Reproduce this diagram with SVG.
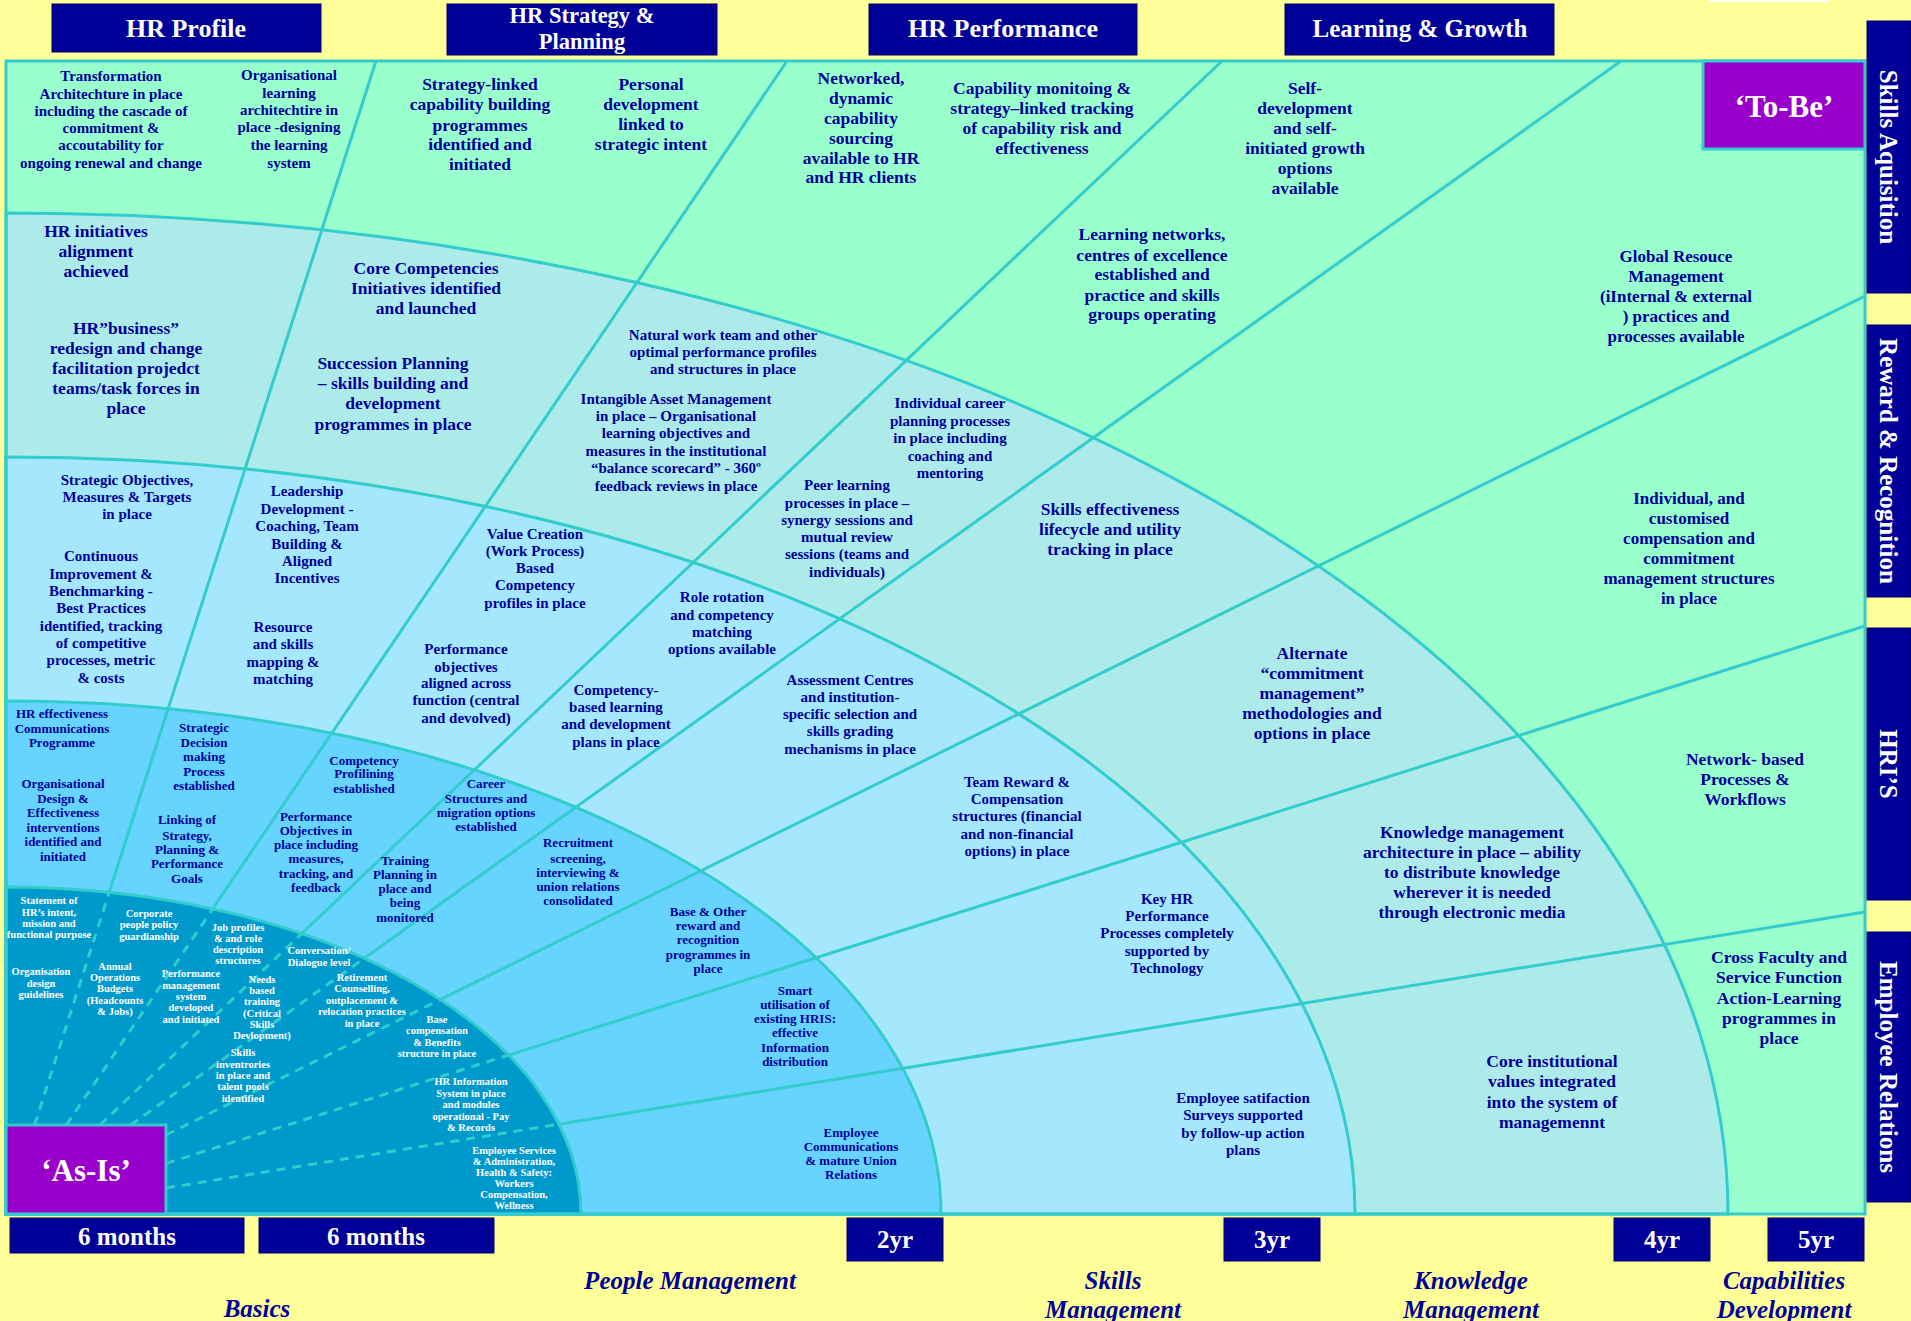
<svg xmlns="http://www.w3.org/2000/svg" width="1911" height="1321" viewBox="0 0 1911 1321">
<style>
.hdr{fill:#000099;stroke:#000066;stroke-width:1}
.ht{font-family:'Liberation Serif','Times New Roman',serif;font-weight:bold;fill:#fff;text-anchor:middle}
.n{font-family:'Liberation Serif','Times New Roman',serif;font-weight:bold;fill:#000099;text-anchor:middle}
.w{fill:#fff}
.it{font-style:italic}
.zone{stroke:#33CCCC;stroke-width:3}
.ray{stroke:#33CCCC;stroke-width:3;fill:none}
.dash{stroke-dasharray:9 7}
.tag{fill:#9900CC;stroke:#33CCCC;stroke-width:3}
.f10{font-size:10.5px}.f13{font-size:13px}.f15{font-size:15px}.f17{font-size:17px}.f18{font-size:17.5px}.f23{font-size:22.5px}.f25{font-size:25px}.f26{font-size:26px}.f31{font-size:31px}
</style>
<rect x="0" y="0" width="1911" height="1321" fill="#FFFF99"/>
<rect x="1709" y="0" width="121" height="2" fill="#ffffff"/>

<g id="zones">
<rect x="6" y="61" width="1859" height="1153" fill="#99FFCC"/>
<path class="zone" fill="#ADEBEB" d="M6,1214 L6,213 A1722,1001 0 0 1 1728,1214 Z"/>
<path class="zone" fill="#A5E8FE" d="M6,1214 L6,457 A1349,757 0 0 1 1355,1214 Z"/>
<path class="zone" fill="#66D4FF" d="M6,1214 L6,701 A935,513 0 0 1 941,1214 Z"/>
<path class="zone" fill="#0099CC" d="M6,1214 L6,887 A575,327 0 0 1 581,1214 Z"/>
</g>

<g id="connectors">
<line class="ray" x1="109.2" y1="892.3" x2="376" y2="61"/>
<line class="ray" x1="212.7" y1="908.9" x2="787" y2="61"/>
<line class="ray" x1="301.7" y1="933.6" x2="1222" y2="61"/>
<line class="ray" x1="364.3" y1="958.2" x2="1621" y2="61"/>
<line class="ray" x1="440.2" y1="999.6" x2="1865" y2="296"/>
<line class="ray" x1="508.5" y1="1055.1" x2="1865" y2="626"/>
<line class="ray" x1="558.9" y1="1124.2" x2="1865" y2="912"/>
<line class="ray dash" x1="34.6" y1="1125" x2="109.2" y2="892.3"/>
<line class="ray dash" x1="66.3" y1="1125" x2="212.7" y2="908.9"/>
<line class="ray dash" x1="99.9" y1="1125" x2="301.7" y2="933.6"/>
<line class="ray dash" x1="130.7" y1="1125" x2="364.3" y2="958.2"/>
<line class="ray dash" x1="166" y1="1135" x2="440.2" y2="999.6"/>
<line class="ray dash" x1="166" y1="1163.4" x2="508.5" y2="1055.1"/>
<line class="ray dash" x1="166" y1="1188" x2="558.9" y2="1124.2"/>
</g>
<rect x="6" y="61" width="1859" height="1153" fill="none" stroke="#33CCCC" stroke-width="3"/>

<g id="as-is"><rect class="tag" x="6" y="1125" width="160" height="89"/><text class="ht f31" x="86" y="1181">‘As-Is’</text></g>
<g id="to-be"><rect class="tag" x="1703" y="61" width="162" height="88"/><text class="ht f31" x="1784" y="117">‘To-Be’</text></g>

<g id="hdr-profile"><rect class="hdr" x="52" y="4" width="269" height="48"/><text class="ht f26" x="186" y="37">HR Profile</text></g>
<g id="hdr-strategy"><rect class="hdr" x="447" y="4" width="270" height="51"/><text class="ht f23" x="582"><tspan x="582" y="23">HR Strategy &amp;</tspan><tspan x="582" y="49">Planning</tspan></text></g>
<g id="hdr-performance"><rect class="hdr" x="869" y="4" width="268" height="51"/><text class="ht f26" x="1003" y="37">HR Performance</text></g>
<g id="hdr-learning"><rect class="hdr" x="1285" y="4" width="269" height="51"/><text class="ht f25" x="1420" y="37">Learning &amp; Growth</text></g>

<g id="side-skills"><rect class="hdr" x="1867" y="21" width="44" height="272"/><text class="ht f25" transform="translate(1889,157) rotate(90)" dy="0.35em">Skills Aquisition</text></g>
<g id="side-reward"><rect class="hdr" x="1867" y="325" width="44" height="272"/><text class="ht f25" transform="translate(1889,461) rotate(90)" dy="0.35em">Reward &amp; Recognition</text></g>
<g id="side-hris"><rect class="hdr" x="1867" y="628" width="44" height="272"/><text class="ht f25" transform="translate(1889,764) rotate(90)" dy="0.35em">HRI’S</text></g>
<g id="side-er"><rect class="hdr" x="1867" y="932" width="44" height="270"/><text class="ht f25" transform="translate(1889,1067) rotate(90)" dy="0.35em">Employee Relations</text></g>

<g id="time-6m-a"><rect class="hdr" x="10" y="1218" width="234" height="35"/><text class="ht f25" x="127" y="1245">6 months</text></g>
<g id="time-6m-b"><rect class="hdr" x="259" y="1218" width="235" height="35"/><text class="ht f25" x="376" y="1245">6 months</text></g>
<g id="time-2yr"><rect class="hdr" x="847" y="1218" width="96" height="43"/><text class="ht f25" x="895" y="1248">2yr</text></g>
<g id="time-3yr"><rect class="hdr" x="1224" y="1218" width="96" height="43"/><text class="ht f25" x="1272" y="1248">3yr</text></g>
<g id="time-4yr"><rect class="hdr" x="1614" y="1218" width="96" height="43"/><text class="ht f25" x="1662" y="1248">4yr</text></g>
<g id="time-5yr"><rect class="hdr" x="1768" y="1218" width="96" height="43"/><text class="ht f25" x="1816" y="1248">5yr</text></g>

<g id="stage-basics"><text class="n it f25" x="257" y="1317">Basics</text></g>
<g id="stage-people"><text class="n it f25" x="690" y="1289">People Management</text></g>
<g id="stage-skills"><text class="n it f25" x="1113"><tspan x="1113" y="1289">Skills</tspan><tspan x="1113" y="1318">Management</tspan></text></g>
<g id="stage-knowledge"><text class="n it f25" x="1471"><tspan x="1471" y="1289">Knowledge</tspan><tspan x="1471" y="1318">Management</tspan></text></g>
<g id="stage-capabilities"><text class="n it f25" x="1784"><tspan x="1784" y="1289">Capabilities</tspan><tspan x="1784" y="1318">Development</tspan></text></g>

<g id="n1"><text class="n f15"><tspan x="111" y="81">Transformation</tspan><tspan x="111" y="99">Architechture in place</tspan><tspan x="111" y="116">including the cascade of</tspan><tspan x="111" y="133">commitment &amp;</tspan><tspan x="111" y="150">accoutability for</tspan><tspan x="111" y="168">ongoing renewal and change</tspan></text></g>
<g id="n2"><text class="n f15"><tspan x="289" y="80">Organisational</tspan><tspan x="289" y="98">learning</tspan><tspan x="289" y="115">architechtire in</tspan><tspan x="289" y="132">place -designing</tspan><tspan x="289" y="150">the learning</tspan><tspan x="289" y="168">system</tspan></text></g>
<g id="n3"><text class="n f18"><tspan x="480" y="90">Strategy-linked</tspan><tspan x="480" y="110">capability building</tspan><tspan x="480" y="131">programmes</tspan><tspan x="480" y="150">identified and</tspan><tspan x="480" y="170">initiated</tspan></text></g>
<g id="n4"><text class="n f18"><tspan x="651" y="90">Personal</tspan><tspan x="651" y="110">development</tspan><tspan x="651" y="130">linked to</tspan><tspan x="651" y="150">strategic intent</tspan></text></g>
<g id="n5"><text class="n f18"><tspan x="861" y="84">Networked,</tspan><tspan x="861" y="104">dynamic</tspan><tspan x="861" y="124">capability</tspan><tspan x="861" y="144">sourcing</tspan><tspan x="861" y="164">available to HR</tspan><tspan x="861" y="183">and HR clients</tspan></text></g>
<g id="n6"><text class="n f18"><tspan x="1042" y="94">Capability monitoing &amp;</tspan><tspan x="1042" y="114">strategy–linked tracking</tspan><tspan x="1042" y="134">of capability risk and</tspan><tspan x="1042" y="154">effectiveness</tspan></text></g>
<g id="n7"><text class="n f18"><tspan x="1305" y="94">Self-</tspan><tspan x="1305" y="114">development</tspan><tspan x="1305" y="134">and self-</tspan><tspan x="1305" y="154">initiated growth</tspan><tspan x="1305" y="174">options</tspan><tspan x="1305" y="194">available</tspan></text></g>
<g id="n8"><text class="n f18"><tspan x="1152" y="240">Learning networks,</tspan><tspan x="1152" y="261">centres of excellence</tspan><tspan x="1152" y="280">established and</tspan><tspan x="1152" y="301">practice and skills</tspan><tspan x="1152" y="320">groups operating</tspan></text></g>
<g id="n9"><text class="n f17"><tspan x="1676" y="262">Global Resouce</tspan><tspan x="1676" y="282">Management</tspan><tspan x="1676" y="302">(iInternal &amp; external</tspan><tspan x="1676" y="322">) practices and</tspan><tspan x="1676" y="342">processes available</tspan></text></g>
<g id="n10"><text class="n f17"><tspan x="1689" y="504">Individual, and</tspan><tspan x="1689" y="524">customised</tspan><tspan x="1689" y="544">compensation and</tspan><tspan x="1689" y="564">commitment</tspan><tspan x="1689" y="584">management structures</tspan><tspan x="1689" y="604">in place</tspan></text></g>
<g id="n11"><text class="n f18"><tspan x="1745" y="765">Network- based</tspan><tspan x="1745" y="785">Processes &amp;</tspan><tspan x="1745" y="805">Workflows</tspan></text></g>
<g id="n12"><text class="n f18"><tspan x="1779" y="963">Cross Faculty and</tspan><tspan x="1779" y="983">Service Function</tspan><tspan x="1779" y="1004">Action-Learning</tspan><tspan x="1779" y="1024">programmes in</tspan><tspan x="1779" y="1044">place</tspan></text></g>
<g id="n13"><text class="n f18"><tspan x="1552" y="1067">Core institutional</tspan><tspan x="1552" y="1087">values integrated</tspan><tspan x="1552" y="1108">into the system of</tspan><tspan x="1552" y="1128">managemennt</tspan></text></g>
<g id="n14"><text class="n f15"><tspan x="1243" y="1103">Employee satifaction</tspan><tspan x="1243" y="1120">Surveys supported</tspan><tspan x="1243" y="1138">by follow-up action</tspan><tspan x="1243" y="1155">plans</tspan></text></g>
<g id="n15"><text class="n f18"><tspan x="1472" y="838">Knowledge management</tspan><tspan x="1472" y="858">architecture in place – ability</tspan><tspan x="1472" y="878">to distribute knowledge</tspan><tspan x="1472" y="898">wherever it is needed</tspan><tspan x="1472" y="918">through electronic media</tspan></text></g>
<g id="n16"><text class="n f15"><tspan x="1167" y="904">Key HR</tspan><tspan x="1167" y="921">Performance</tspan><tspan x="1167" y="938">Processes completely</tspan><tspan x="1167" y="956">supported by</tspan><tspan x="1167" y="973">Technology</tspan></text></g>
<g id="n17"><text class="n f18"><tspan x="1312" y="659">Alternate</tspan><tspan x="1312" y="679">“commitment</tspan><tspan x="1312" y="699">management”</tspan><tspan x="1312" y="719">methodologies and</tspan><tspan x="1312" y="739">options in place</tspan></text></g>
<g id="n18"><text class="n f18"><tspan x="1110" y="515">Skills effectiveness</tspan><tspan x="1110" y="535">lifecycle and utility</tspan><tspan x="1110" y="555">tracking in place</tspan></text></g>
<g id="n19"><text class="n f15"><tspan x="1017" y="787">Team Reward &amp;</tspan><tspan x="1017" y="804">Compensation</tspan><tspan x="1017" y="821">structures (financial</tspan><tspan x="1017" y="839">and non-financial</tspan><tspan x="1017" y="856">options) in place</tspan></text></g>
<g id="n20"><text class="n f15"><tspan x="850" y="685">Assessment Centres</tspan><tspan x="850" y="702">and institution-</tspan><tspan x="850" y="719">specific selection and</tspan><tspan x="850" y="736">skills grading</tspan><tspan x="850" y="754">mechanisms in place</tspan></text></g>
<g id="n21"><text class="n f15"><tspan x="722" y="602">Role rotation</tspan><tspan x="722" y="620">and competency</tspan><tspan x="722" y="637">matching</tspan><tspan x="722" y="654">options available</tspan></text></g>
<g id="n22"><text class="n f15"><tspan x="616" y="695">Competency-</tspan><tspan x="616" y="712">based learning</tspan><tspan x="616" y="729">and development</tspan><tspan x="616" y="747">plans in place</tspan></text></g>
<g id="n23"><text class="n f15"><tspan x="847" y="490">Peer learning</tspan><tspan x="847" y="508">processes in place –</tspan><tspan x="847" y="525">synergy sessions and</tspan><tspan x="847" y="542">mutual review</tspan><tspan x="847" y="559">sessions (teams and</tspan><tspan x="847" y="577">individuals)</tspan></text></g>
<g id="n24"><text class="n f15"><tspan x="950" y="408">Individual career</tspan><tspan x="950" y="426">planning processes</tspan><tspan x="950" y="443">in place including</tspan><tspan x="950" y="461">coaching and</tspan><tspan x="950" y="478">mentoring</tspan></text></g>
<g id="n25"><text class="n f15"><tspan x="723" y="340">Natural work team and other</tspan><tspan x="723" y="357">optimal performance profiles</tspan><tspan x="723" y="374">and structures in place</tspan></text></g>
<g id="n26"><text class="n f15"><tspan x="676" y="404">Intangible Asset Management</tspan><tspan x="676" y="421">in place – Organisational</tspan><tspan x="676" y="438">learning objectives and</tspan><tspan x="676" y="456">measures in the institutional</tspan><tspan x="676" y="473">“balance scorecard” - 360º</tspan><tspan x="676" y="491">feedback reviews in place</tspan></text></g>
<g id="n27"><text class="n f15"><tspan x="535" y="539">Value Creation</tspan><tspan x="535" y="556">(Work Process)</tspan><tspan x="535" y="573">Based</tspan><tspan x="535" y="590">Competency</tspan><tspan x="535" y="608">profiles in place</tspan></text></g>
<g id="n28"><text class="n f15"><tspan x="466" y="654">Performance</tspan><tspan x="466" y="672">objectives</tspan><tspan x="466" y="688">aligned across</tspan><tspan x="466" y="705">function (central</tspan><tspan x="466" y="723">and devolved)</tspan></text></g>
<g id="n29"><text class="n f15"><tspan x="307" y="496">Leadership</tspan><tspan x="307" y="514">Development -</tspan><tspan x="307" y="531">Coaching, Team</tspan><tspan x="307" y="549">Building &amp;</tspan><tspan x="307" y="566">Aligned</tspan><tspan x="307" y="583">Incentives</tspan></text></g>
<g id="n30"><text class="n f15"><tspan x="283" y="632">Resource</tspan><tspan x="283" y="649">and skills</tspan><tspan x="283" y="667">mapping &amp;</tspan><tspan x="283" y="684">matching</tspan></text></g>
<g id="n31"><text class="n f15"><tspan x="127" y="485">Strategic Objectives,</tspan><tspan x="127" y="502">Measures &amp; Targets</tspan><tspan x="127" y="519">in place</tspan></text></g>
<g id="n32"><text class="n f15"><tspan x="101" y="561">Continuous</tspan><tspan x="101" y="579">Improvement &amp;</tspan><tspan x="101" y="596">Benchmarking -</tspan><tspan x="101" y="613">Best Practices</tspan><tspan x="101" y="631">identified, tracking</tspan><tspan x="101" y="648">of competitive</tspan><tspan x="101" y="665">processes, metric</tspan><tspan x="101" y="683">&amp; costs</tspan></text></g>
<g id="n33"><text class="n f18"><tspan x="96" y="237">HR initiatives</tspan><tspan x="96" y="257">alignment</tspan><tspan x="96" y="277">achieved</tspan></text></g>
<g id="n34"><text class="n f18"><tspan x="126" y="334">HR”business”</tspan><tspan x="126" y="354">redesign and change</tspan><tspan x="126" y="374">facilitation projedct</tspan><tspan x="126" y="394">teams/task forces in</tspan><tspan x="126" y="414">place</tspan></text></g>
<g id="n35"><text class="n f18"><tspan x="426" y="274">Core Competencies</tspan><tspan x="426" y="294">Initiatives identified</tspan><tspan x="426" y="314">and launched</tspan></text></g>
<g id="n36"><text class="n f18"><tspan x="393" y="369">Succession Planning</tspan><tspan x="393" y="389">– skills building and</tspan><tspan x="393" y="409">development</tspan><tspan x="393" y="430">programmes in place</tspan></text></g>

<g id="n37"><text class="n f13"><tspan x="62" y="718">HR effectiveness</tspan><tspan x="62" y="733">Communications</tspan><tspan x="62" y="747">Programme</tspan></text></g>
<g id="n38"><text class="n f13"><tspan x="63" y="788">Organisational</tspan><tspan x="63" y="803">Design &amp;</tspan><tspan x="63" y="817">Effectiveness</tspan><tspan x="63" y="832">interventions</tspan><tspan x="63" y="846">identified and</tspan><tspan x="63" y="861">initiated</tspan></text></g>
<g id="n39"><text class="n f13"><tspan x="204" y="732">Strategic</tspan><tspan x="204" y="747">Decision</tspan><tspan x="204" y="761">making</tspan><tspan x="204" y="776">Process</tspan><tspan x="204" y="790">established</tspan></text></g>
<g id="n40"><text class="n f13"><tspan x="187" y="824">Linking of</tspan><tspan x="187" y="840">Strategy,</tspan><tspan x="187" y="854">Planning &amp;</tspan><tspan x="187" y="868">Performance</tspan><tspan x="187" y="883">Goals</tspan></text></g>
<g id="n41"><text class="n f13"><tspan x="364" y="765">Competency</tspan><tspan x="364" y="778">Profilining</tspan><tspan x="364" y="793">established</tspan></text></g>
<g id="n42"><text class="n f13"><tspan x="316" y="821">Performance</tspan><tspan x="316" y="835">Objectives in</tspan><tspan x="316" y="849">place including</tspan><tspan x="316" y="863">measures,</tspan><tspan x="316" y="878">tracking, and</tspan><tspan x="316" y="892">feedback</tspan></text></g>
<g id="n43"><text class="n f13"><tspan x="486" y="788">Career</tspan><tspan x="486" y="803">Structures and</tspan><tspan x="486" y="817">migration options</tspan><tspan x="486" y="831">established</tspan></text></g>
<g id="n44"><text class="n f13"><tspan x="405" y="865">Training</tspan><tspan x="405" y="879">Planning in</tspan><tspan x="405" y="893">place and</tspan><tspan x="405" y="907">being</tspan><tspan x="405" y="922">monitored</tspan></text></g>
<g id="n45"><text class="n f13"><tspan x="578" y="847">Recruitment</tspan><tspan x="578" y="863">screening,</tspan><tspan x="578" y="877">interviewing &amp;</tspan><tspan x="578" y="891">union relations</tspan><tspan x="578" y="905">consolidated</tspan></text></g>
<g id="n46"><text class="n f13"><tspan x="708" y="916">Base &amp; Other</tspan><tspan x="708" y="930">reward and</tspan><tspan x="708" y="944">recognition</tspan><tspan x="708" y="959">programmes in</tspan><tspan x="708" y="973">place</tspan></text></g>
<g id="n47"><text class="n f13"><tspan x="795" y="995">Smart</tspan><tspan x="795" y="1009">utilisation of</tspan><tspan x="795" y="1023">existing HRIS:</tspan><tspan x="795" y="1037">effective</tspan><tspan x="795" y="1052">Information</tspan><tspan x="795" y="1066">distribution</tspan></text></g>
<g id="n48"><text class="n f13"><tspan x="851" y="1137">Employee</tspan><tspan x="851" y="1151">Communications</tspan><tspan x="851" y="1165">&amp; mature Union</tspan><tspan x="851" y="1179">Relations</tspan></text></g>

<g id="n49"><text class="n w f10"><tspan x="49" y="904">Statement of</tspan><tspan x="49" y="916">HR’s intent,</tspan><tspan x="49" y="927">mission and</tspan><tspan x="49" y="938">functional purpose</tspan></text></g>
<g id="n50"><text class="n w f10"><tspan x="149" y="917">Corporate</tspan><tspan x="149" y="928">people policy</tspan><tspan x="149" y="940">guardianship</tspan></text></g>
<g id="n51"><text class="n w f10"><tspan x="41" y="975">Organisation</tspan><tspan x="41" y="987">design</tspan><tspan x="41" y="998">guidelines</tspan></text></g>
<g id="n52"><text class="n w f10"><tspan x="115" y="970">Annual</tspan><tspan x="115" y="981">Operations</tspan><tspan x="115" y="992">Budgets</tspan><tspan x="115" y="1004">(Headcounts</tspan><tspan x="115" y="1015">&amp; Jobs)</tspan></text></g>
<g id="n53"><text class="n w f10"><tspan x="238" y="931">Job profiles</tspan><tspan x="238" y="942">&amp; and role</tspan><tspan x="238" y="953">description</tspan><tspan x="238" y="964">structures</tspan></text></g>
<g id="n54"><text class="n w f10"><tspan x="191" y="977">Performance</tspan><tspan x="191" y="989">management</tspan><tspan x="191" y="1000">system</tspan><tspan x="191" y="1011">developed</tspan><tspan x="191" y="1023">and initiated</tspan></text></g>
<g id="n55"><text class="n w f10"><tspan x="262" y="983">Needs</tspan><tspan x="262" y="994">based</tspan><tspan x="262" y="1005">training</tspan><tspan x="262" y="1017">(Critical</tspan><tspan x="262" y="1028">Skills</tspan><tspan x="262" y="1039">Devlopment)</tspan></text></g>
<g id="n56"><text class="n w f10"><tspan x="243" y="1056">Skills</tspan><tspan x="243" y="1068">inventrories</tspan><tspan x="243" y="1079">in place and</tspan><tspan x="243" y="1090">talent pools</tspan><tspan x="243" y="1102">identified</tspan></text></g>
<g id="n57"><text class="n w f10"><tspan x="319" y="954">Conversation/</tspan><tspan x="319" y="966">Dialogue level</tspan></text></g>
<g id="n58"><text class="n w f10"><tspan x="362" y="981">Retirement</tspan><tspan x="362" y="992">Counselling,</tspan><tspan x="362" y="1004">outplacement &amp;</tspan><tspan x="362" y="1015">relocation practices</tspan><tspan x="362" y="1027">in place</tspan></text></g>
<g id="n59"><text class="n w f10"><tspan x="437" y="1023">Base</tspan><tspan x="437" y="1034">compensation</tspan><tspan x="437" y="1046">&amp; Benefits</tspan><tspan x="437" y="1057">structure in place</tspan></text></g>
<g id="n60"><text class="n w f10"><tspan x="471" y="1085">HR Information</tspan><tspan x="471" y="1097">System in place</tspan><tspan x="471" y="1108">and modules</tspan><tspan x="471" y="1120">operational - Pay</tspan><tspan x="471" y="1131">&amp; Records</tspan></text></g>
<g id="n61"><text class="n w f10"><tspan x="514" y="1154">Employee Services</tspan><tspan x="514" y="1165">&amp; Administration,</tspan><tspan x="514" y="1176">Health &amp; Safety:</tspan><tspan x="514" y="1187">Workers</tspan><tspan x="514" y="1198">Compensation,</tspan><tspan x="514" y="1209">Wellness</tspan></text></g>
</svg>
